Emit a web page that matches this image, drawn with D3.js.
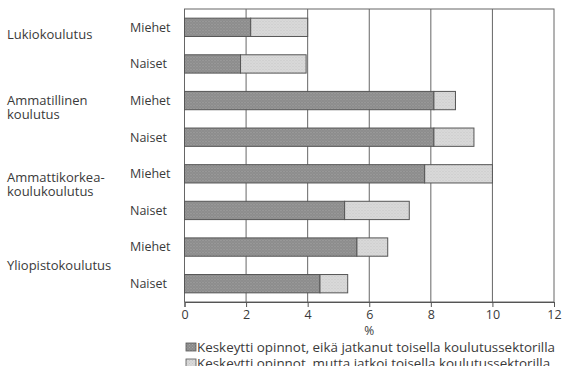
<!DOCTYPE html>
<html>
<head>
<meta charset="utf-8">
<script src="https://cdn.jsdelivr.net/npm/d3@7"></script>
<style>
  body { margin: 0; background: #fff; }
  text { font-family: "Open Sans", sans-serif; fill: #3a3a3a; }
</style>
</head>
<body>
<div id="viz"></div>
<script>
// data
var groups = ["Lukiokoulutus", "Ammatillinen koulutus", "Ammattikorkea- koulukoulutus", "Yliopistokoulutus"];
var groupLines = [["Lukiokoulutus"], ["Ammatillinen", "koulutus"], ["Ammattikorkea-", "koulukoulutus"], ["Yliopistokoulutus"]];
var sexes = ["Miehet", "Naiset"];
// keskeytti, ei jatkanut (dark)
var dropped = [2.15, 1.82, 8.1, 8.1, 7.8, 5.2, 5.6, 4.4];
// keskeytti, jatkoi toisella sektorilla (light)
var moved = [1.85, 2.13, 0.7, 1.3, 2.2, 2.1, 1.0, 0.9];
var xTicks = [0, 2, 4, 6, 8, 10, 12];
var legendLabels = ["Keskeytti opinnot, eikä jatkanut toisella koulutussektorilla",
  "Keskeytti opinnot, mutta jatkoi toisella koulutussektorilla"];

var rows = [];
groups.forEach(function (g, gi) {
  sexes.forEach(function (s, si) {
    var i = gi * 2 + si;
    rows.push({ key: i, group: g, gi: gi, sex: s, a: dropped[i], b: moved[i] });
  });
});

var margin = { top: 9, right: 9, bottom: 64, left: 184.5 },
  W = 563, H = 366,
  width = W - margin.left - margin.right,
  height = H - margin.top - margin.bottom;

var svg = d3.select("#viz").append("svg")
  .attr("width", W)
  .attr("height", H);

// textures for the bars
var defs = svg.append("defs");
function texture(id, base, dot) {
  var p = defs.append("pattern")
    .attr("id", id)
    .attr("width", 3).attr("height", 3)
    .attr("patternUnits", "userSpaceOnUse");
  p.append("rect").attr("width", 3).attr("height", 3).attr("fill", base);
  p.append("rect").attr("x", 0).attr("y", 0).attr("width", 1).attr("height", 1).attr("fill", dot);
  p.append("rect").attr("x", 1.5).attr("y", 1.5).attr("width", 1).attr("height", 1).attr("fill", dot);
}
texture("darkTex", "#8a8a8a", "#a6a6a6");
texture("lightTex", "#dadada", "#c6c6c6");

var g = svg.append("g")
  .attr("transform", "translate(" + margin.left + "," + margin.top + ")");

var x = d3.scaleLinear().domain([0, 12]).range([0, width]);
var y = d3.scaleBand().domain(rows.map(function (d) { return d.key; }))
  .range([0, height]).paddingInner(0.5).paddingOuter(0.25);

// frame + grid
g.append("rect")
  .attr("width", width).attr("height", height)
  .attr("fill", "none").attr("stroke", "#666").attr("stroke-width", 1);

g.selectAll(".grid")
  .data(xTicks.slice(1, -1))
  .enter().append("line")
  .attr("x1", function (d) { return x(d); })
  .attr("x2", function (d) { return x(d); })
  .attr("y1", 0).attr("y2", height)
  .attr("stroke", "#666").attr("stroke-width", 1);

// x axis
var xAxis = g.append("g")
  .attr("transform", "translate(0," + height + ")")
  .call(d3.axisBottom(x).tickValues(xTicks).tickSize(5).tickPadding(3));
xAxis.select(".domain").attr("stroke", "#555");
xAxis.selectAll(".tick line").attr("stroke", "#555");
xAxis.selectAll("text").style("font-size", "12.5px").attr("fill", "#3a3a3a");

g.append("text")
  .attr("x", x(6)).attr("y", height + 33)
  .attr("text-anchor", "middle")
  .style("font-size", "12px")
  .text("%");

// bars
var bars = g.selectAll(".bar").data(rows).enter().append("g");
bars.append("rect")
  .attr("x", x(0))
  .attr("y", function (d) { return y(d.key); })
  .attr("width", function (d) { return x(d.a) - x(0); })
  .attr("height", y.bandwidth())
  .attr("fill", "url(#darkTex)")
  .attr("stroke", "#555").attr("stroke-width", 1);
bars.append("rect")
  .attr("x", function (d) { return x(d.a); })
  .attr("y", function (d) { return y(d.key); })
  .attr("width", function (d) { return x(d.a + d.b) - x(d.a); })
  .attr("height", y.bandwidth())
  .attr("fill", "url(#lightTex)")
  .attr("stroke", "#555").attr("stroke-width", 1);

// Miehet / Naiset labels
g.selectAll(".sex")
  .data(rows).enter().append("text")
  .attr("x", 130 - margin.left)
  .attr("y", function (d) { return y(d.key) + y.bandwidth() / 2; })
  .attr("dy", "0.35em")
  .style("font-size", "12.5px")
  .text(function (d) { return d.sex; });

// group labels
var groupShift = [7, 0, 4, 18];
groupLines.forEach(function (lines, gi) {
  var cy = y(gi * 2) + y.bandwidth() / 2 + groupShift[gi];
  var t = g.append("text")
    .attr("x", 7 - margin.left)
    .attr("y", cy)
    .style("font-size", "13px");
  lines.forEach(function (l, li) {
    t.append("tspan").attr("x", 7 - margin.left)
      .attr("dy", li === 0 ? "0.35em" : "1.05em")
      .text(l);
  });
});

// legend
var legend = svg.append("g").attr("transform", "translate(186," + (H - 19) + ")");
legendLabels.forEach(function (l, i) {
  var row = legend.append("g").attr("transform", "translate(0," + (i * 16) + ")");
  row.append("rect")
    .attr("x", 0).attr("y", -4).attr("width", 10).attr("height", 8)
    .attr("fill", i === 0 ? "url(#darkTex)" : "url(#lightTex)")
    .attr("stroke", "#555").attr("stroke-width", 0.8);
  row.append("text")
    .attr("x", 11).attr("y", 0).attr("dy", "0.35em")
    .style("font-size", "13.4px")
    .text(l);
});
</script>
</body>
</html>
